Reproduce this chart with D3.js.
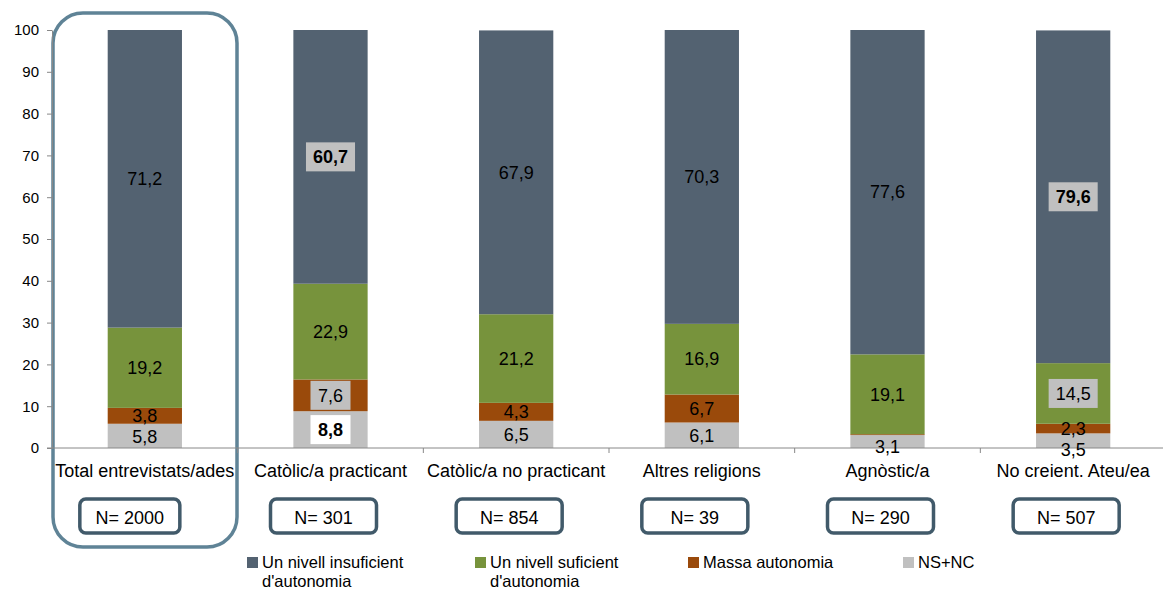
<!DOCTYPE html>
<html>
<head>
<meta charset="utf-8">
<script src="https://cdn.jsdelivr.net/npm/d3@7"></script>
<style>
  body { margin: 0; background: #fff; }
  svg text { font-family: "Liberation Sans", Arial, sans-serif; fill: #000; }
</style>
</head>
<body>
<div id="wrapper"></div>
<script>
// categories and sample sizes
const categories = ["Total entrevistats/ades", "Catòlic/a practicant", "Catòlic/a no practicant", "Altres religions", "Agnòstic/a", "No creient. Ateu/ea"];
const sampleN = [2000, 301, 854, 39, 290, 507];

// series, bottom to top
const seriesNames = ["NS+NC", "Massa autonomia", "Un nivell suficient d'autonomia", "Un nivell insuficient d'autonomia"];
const nsnc        = [5.8, 8.8, 6.5, 6.1, 3.1, 3.5];
const massa       = [3.8, 7.6, 4.3, 6.7, 0.2, 2.3];
const suficient   = [19.2, 22.9, 21.2, 16.9, 19.1, 14.5];
const insuficient = [71.2, 60.7, 67.9, 70.3, 77.6, 79.6];

const yTicks = [0, 10, 20, 30, 40, 50, 60, 70, 80, 90, 100];

// highlighted labels: [category, series index]
const boldLabels = [[1, 3], [1, 0], [5, 3]];
const boxedGrey = [[1, 3], [1, 1], [5, 3], [5, 2]];
const boxedWhite = [[1, 0]];

const colors = ["#c0c0c0", "#9a4a0b", "#77933c", "#536271"];
const W = 1163, H = 592;

const svg = d3.select("#wrapper").append("svg").attr("width", W).attr("height", H);

const x = d3.scaleBand().domain(categories).range([52, 1166]).paddingInner(0.6).paddingOuter(0.3);
const y = d3.scaleLinear().domain([0, 100]).range([448, 30]);
const step = x.step();

const values = [nsnc, massa, suficient, insuficient];
const stacked = categories.map(function(c, i) {
  let base = 0;
  return values.map(function(arr, s) {
    const seg = { cat: c, ci: i, s: s, v: arr[i], y0: base, y1: base + arr[i] };
    base += arr[i];
    return seg;
  });
});

// big frame around total
svg.append("rect")
  .attr("x", 53).attr("y", 13).attr("width", 184).attr("height", 534)
  .attr("rx", 30).attr("fill", "none").attr("stroke", "#5f8396").attr("stroke-width", 3.5);

// bars
const bw = x.bandwidth();
stacked.forEach(function(segs) {
  svg.selectAll(null).data(segs).enter().append("rect")
    .attr("x", d => x(d.cat))
    .attr("y", d => y(d.y1))
    .attr("width", bw)
    .attr("height", d => y(d.y0) - y(d.y1))
    .attr("fill", d => colors[d.s]);
});

// axes
const yAxis = svg.append("g").attr("transform", "translate(52,0)")
  .call(d3.axisLeft(y).tickValues(yTicks).tickSize(5).tickSizeOuter(0).tickPadding(8));
yAxis.select(".domain").attr("stroke", "#888");
yAxis.selectAll(".tick line").attr("stroke", "#888");
yAxis.selectAll(".tick text").style("font-size", "15px").attr("fill", "#000");

svg.append("line").attr("x1", 47).attr("x2", 1166).attr("y1", 448).attr("y2", 448).attr("stroke", "#888");
categories.forEach(function(c, i) {
  const bx = 52 + (i + 1) * step;
  svg.append("line").attr("x1", bx).attr("x2", bx).attr("y1", 448).attr("y2", 453).attr("stroke", "#888");
});

// category labels
svg.selectAll(".cat").data(categories).enter().append("text")
  .attr("x", d => x(d) + bw / 2).attr("y", 477)
  .attr("text-anchor", "middle").style("font-size", "18px")
  .text(d => d);

// value labels
const fmt = v => d3.format(".1f")(v).replace(".", ",");
const has = (list, d) => list.some(p => p[0] === d.ci && p[1] === d.s);
stacked.forEach(function(segs) {
  let prev = -Infinity;
  segs.slice().reverse().forEach(function(d) {
    if (d.v < 1) return;
    let cy = Math.max(y((d.y0 + d.y1) / 2), prev + 21);
    if (d.s === 0 && d.v < 4) cy = Math.max(cy, 447);
    prev = cy;
    const cx = x(d.cat) + bw / 2;
    const g = svg.append("g");
    const t = g.append("text")
      .attr("x", cx).attr("y", cy).attr("dy", "0.35em")
      .attr("text-anchor", "middle")
      .style("font-size", "18px")
      .style("font-weight", has(boldLabels, d) ? "bold" : "normal")
      .text(fmt(d.v));
    const grey = has(boxedGrey, d), white = has(boxedWhite, d);
    if (grey || white) {
      const bb = t.node().getBBox();
      const bwid = Math.max(40, bb.width + 14);
      g.insert("rect", "text")
        .attr("x", cx - bwid / 2).attr("y", cy - 14.5)
        .attr("width", bwid).attr("height", 29)
        .attr("fill", white ? "#fff" : "#c0c0c0");
    }
  });
});

// N boxes
categories.forEach(function(c, i) {
  const cx = x(c) + bw / 2 - (i === 0 ? 15 : 7);
  const w = i === 0 ? 100 : 106;
  svg.append("rect")
    .attr("x", cx - w / 2).attr("y", 499).attr("width", w).attr("height", 34)
    .attr("rx", 6).attr("fill", "#fff").attr("stroke", "#415a6a").attr("stroke-width", 3.5);
  svg.append("text")
    .attr("x", cx).attr("y", 524).attr("text-anchor", "middle")
    .style("font-size", "18px")
    .text("N= " + sampleN[i]);
});

// legend
const legendOrder = [3, 2, 1, 0];
const legendX = [247, 475, 688, 903];
legendOrder.forEach(function(s, k) {
  const lx = legendX[k];
  svg.append("rect").attr("x", lx).attr("y", 557).attr("width", 11).attr("height", 11).attr("fill", colors[s]);
  const name = seriesNames[s];
  const m = name.indexOf(" d'");
  const lines = m > 0 ? [name.slice(0, m), name.slice(m + 1)] : [name];
  lines.forEach(function(l, j) {
    svg.append("text").attr("x", lx + 15).attr("y", 568 + j * 18.5)
      .style("font-size", "16.5px").text(l);
  });
});
</script>
</body>
</html>
